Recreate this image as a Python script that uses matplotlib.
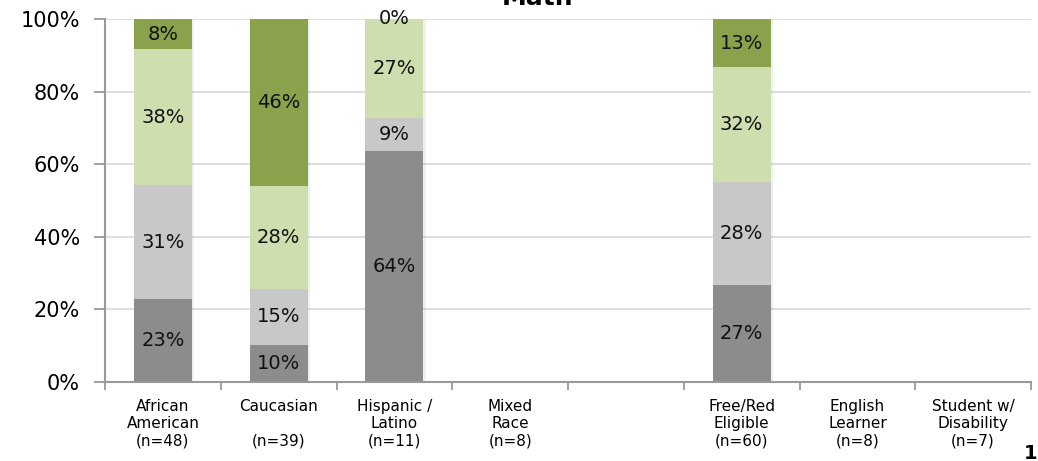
import matplotlib
matplotlib.use("Agg")
import matplotlib.pyplot as plt
import numpy as np

categories = ["African\nAmerican\n(n=48)", "Caucasian\n\n(n=39)", "Hispanic /\nLatino\n(n=11)",
              "Mixed\nRace\n(n=8)", "", "Free/Red\nEligible\n(n=60)", "English\nLearner\n(n=8)",
              "Student w/\nDisability\n(n=7)"]
has_bar = [True, True, True, False, False, True, False, False]
# segments bottom -> top
seg1 = [22.9, 10.3, 63.6, 0, 0, 26.7, 0, 0]
seg2 = [31.3, 15.4, 9.1, 0, 0, 28.3, 0, 0]
seg3 = [37.5, 28.2, 27.3, 0, 0, 31.7, 0, 0]
seg4 = [8.3, 46.2, 0.0, 0, 0, 13.3, 0, 0]
colors = ["#8c8c8c", "#c8c8c8", "#cfdeae", "#8aa24b"]

fig = plt.figure(figsize=(10.38, 4.61), dpi=100)
ax = fig.add_axes([105/1038, 1-382/461, (1031-105)/1038, (382-19)/461])

x = np.arange(len(categories))
idx = [i for i in x if has_bar[i]]
bottom = np.zeros(len(idx))
for vals, c in zip([seg1, seg2, seg3, seg4], colors):
    v = np.array([vals[i] for i in idx])
    # subtle shadow
    ax.bar(np.array(idx) + 0.02, v, 0.5, bottom=bottom - 0.4, color="#000000", alpha=0.06, zorder=1)
    ax.bar(idx, v, 0.5, bottom=bottom, color=c, zorder=2)
    for xi, vi, bi in zip(idx, v, bottom):
        ax.text(xi, bi + vi/2, f"{vi:.0f}%", ha="center", va="center", fontsize=14, color="#111111", zorder=3)
    bottom = bottom + v

ax.set_ylim(0, 100)
ax.set_xlim(-0.5, len(categories) - 0.5)
ax.set_yticks([0, 20, 40, 60, 80, 100])
ax.set_yticklabels(["0%", "20%", "40%", "60%", "80%", "100%"], fontsize=15)
ax.yaxis.grid(True, color="#d9d9d9", linewidth=1.2, zorder=0)
ax.set_axisbelow(True)
ax.set_xticks(x)
ax.set_xticklabels(categories, fontsize=11)
ax.set_xticks(np.arange(-0.5, len(categories)), minor=True)
ax.tick_params(axis="x", which="major", length=0, pad=12)
ax.tick_params(axis="x", which="minor", length=6, color="#999999", width=1.3)
ax.tick_params(axis="y", length=8, color="#999999", width=1.3, pad=10)
for s in ["top", "right"]:
    ax.spines[s].set_visible(False)
for s in ["left", "bottom"]:
    ax.spines[s].set_color("#999999")
    ax.spines[s].set_linewidth(1.5)

fig.text(538/1038, 1 - 5/461, "Math", ha="center", va="baseline", fontsize=18, fontweight="bold")
fig.text(1024/1038, 1 - 459/461, "11", ha="left", va="baseline", fontsize=14, fontweight="bold")

fig.savefig("out.png", dpi=100)
